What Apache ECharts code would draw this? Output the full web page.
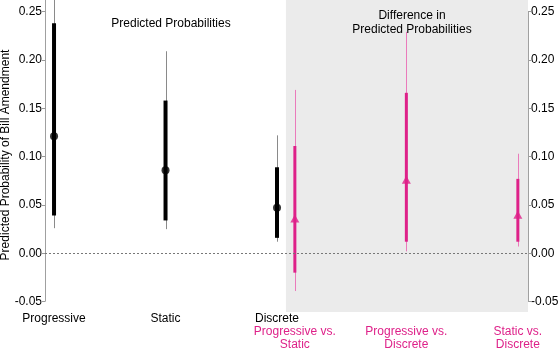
<!DOCTYPE html>
<html><head><meta charset="utf-8">
<script src="https://cdn.jsdelivr.net/npm/echarts@6/dist/echarts.min.js"></script>
<style>html,body{margin:0;padding:0;background:#fff}#c{width:560px;height:350px}</style>
</head><body><div id="c"></div>
<script>
// ---- data ----
const probLabels = ['Progressive', 'Static', 'Discrete'];
const probX = [1, 2, 3];
const probEst = [0.121, 0.086, 0.047];
const probThickLow = [0.039, 0.034, 0.016];
const probThickHigh = [0.238, 0.158, 0.089];
const probThinLow = [0.026, 0.025, 0.012];
const probThinHigh = [0.300, 0.209, 0.122];

const diffLabels = ['Progressive vs.\nStatic', 'Progressive vs.\nDiscrete', 'Static vs.\nDiscrete'];
const diffX = [3.16, 4.16, 5.16];
const diffEst = [0.036, 0.076, 0.040];
const diffThickLow = [-0.020, 0.012, 0.012];
const diffThickHigh = [0.111, 0.166, 0.077];
const diffThinLow = [-0.039, 0.002, 0.007];
const diffThinHigh = [0.169, 0.229, 0.103];

const yTicks = [-0.05, 0, 0.05, 0.10, 0.15, 0.20, 0.25];
const yTitle = 'Predicted Probability of Bill Amendment';
const shadeStart = 3.08;

// ---- layout ----
const X_MIN = 0.919, X_MAX = 5.251, Y_MIN = -0.0607, Y_MAX = 0.262;
const FONT = 'Liberation Sans, Arial, sans-serif';
const PINK = '#de2189', PINK_THIN = '#ea7bbb';

function rows(x, tl, th, kl, kh) {
  return x.map((v, i) => [v, tl[i], th[i], kl[i], kh[i]]);
}
function makeRender(thin, thick, thickW) {
  return function (params, api) {
    const x = api.value(0);
    const a = api.coord([x, api.value(1)]), b = api.coord([x, api.value(2)]);
    const c = api.coord([x, api.value(3)]), d = api.coord([x, api.value(4)]);
    const px = Math.round(a[0]) + 0.5;
    return {
      type: 'group', children: [
        { type: 'line', shape: { x1: px, y1: a[1], x2: px, y2: b[1] }, style: { stroke: thin, lineWidth: 1 } },
        { type: 'line', shape: { x1: c[0], y1: c[1], x2: d[0], y2: d[1] }, style: { stroke: thick, lineWidth: thickW } }
      ]
    };
  };
}

const chart = echarts.init(document.getElementById('c'), null, { renderer: 'canvas' });
const lab = (arr, xs) => v => { const i = xs.findIndex(q => Math.abs(q - v) < 1e-6); return i >= 0 ? arr[i] : ''; };

chart.setOption({
  animation: false,
  textStyle: { fontFamily: FONT },
  title: [
    { text: 'Predicted Probabilities', left: 166, top: 13, textAlign: 'center',
      textStyle: { fontSize: 12, fontWeight: 'normal', color: '#000', fontFamily: FONT } },
    { text: 'Difference in\nPredicted Probabilities', left: 407, top: 4, textAlign: 'center',
      textStyle: { fontSize: 12, fontWeight: 'normal', color: '#000', lineHeight: 14, fontFamily: FONT } }
  ],
  graphic: [
    { type: 'text', x: 6, y: 155, rotation: Math.PI / 2, z: 10,
      style: { text: yTitle, fontSize: 12, fill: '#000', fontFamily: FONT, align: 'center', verticalAlign: 'middle' } }
  ],
  grid: { left: 45, right: 32, top: 0, bottom: 38, containLabel: false, outerBoundsMode: 'none' },
  xAxis: [
    { type: 'value', min: X_MIN, max: X_MAX, splitLine: { show: false }, axisLine: { show: false }, axisTick: { show: false },
      axisLabel: { customValues: probX, formatter: lab(probLabels, probX), fontSize: 12, color: '#000', margin: 1, fontFamily: FONT } },
    { type: 'value', min: X_MIN, max: X_MAX, position: 'bottom', splitLine: { show: false }, axisLine: { show: false }, axisTick: { show: false },
      axisLabel: { customValues: diffX, formatter: lab(diffLabels, diffX), fontSize: 12, color: PINK, margin: 13, lineHeight: 13, fontFamily: FONT } }
  ],
  yAxis: [
    { type: 'value', min: Y_MIN, max: Y_MAX, splitLine: { show: false }, axisLine: { show: false },
      axisTick: { show: true, customValues: yTicks, length: 3, lineStyle: { color: '#999' } },
      axisLabel: { customValues: yTicks, formatter: v => v.toFixed(2), fontSize: 12, color: '#000', margin: 3, fontFamily: FONT } },
    { type: 'value', min: Y_MIN, max: Y_MAX, position: 'right', splitLine: { show: false }, axisLine: { show: false },
      axisTick: { show: true, customValues: yTicks, length: 3, lineStyle: { color: '#999' } },
      axisLabel: { customValues: yTicks, formatter: v => v.toFixed(2), fontSize: 12, color: '#000', margin: 3, fontFamily: FONT } }
  ],
  series: [
    { type: 'line', data: [], z: 1, silent: true,
      markArea: { silent: true, itemStyle: { color: '#ebebeb' }, data: [[{ coord: [shadeStart, Y_MIN] }, { coord: [X_MAX, Y_MAX] }]] },
      markLine: { silent: true, symbol: 'none', label: { show: false },
        data: [
          [{ coord: [X_MIN, -0.05], lineStyle: { color: '#a0a0a0', type: 'solid', width: 1 } }, { coord: [X_MIN, Y_MAX] }],
          [{ coord: [X_MAX, -0.05], lineStyle: { color: '#a0a0a0', type: 'solid', width: 1 } }, { coord: [X_MAX, 0.25] }],
          [{ coord: [X_MIN, 0], lineStyle: { color: '#777', type: [2, 2], width: 1 } }, { coord: [X_MAX, 0] }]
        ] } },
    { type: 'custom', z: 3, clip: true, renderItem: makeRender('#8a8a8a', '#000', 4), data: rows(probX, probThinLow, probThinHigh, probThickLow, probThickHigh) },
    { type: 'custom', z: 3, clip: true, renderItem: makeRender(PINK_THIN, PINK, 3), data: rows(diffX, diffThinLow, diffThinHigh, diffThickLow, diffThickHigh) },
    { type: 'scatter', z: 4, symbol: 'circle', symbolSize: 8, itemStyle: { color: '#000' }, data: probX.map((x, i) => [x, probEst[i]]) },
    { type: 'scatter', z: 4, symbol: 'triangle', symbolSize: [9, 8], itemStyle: { color: PINK }, data: diffX.map((x, i) => [x, diffEst[i]]) }
  ]
});
</script></body></html>
